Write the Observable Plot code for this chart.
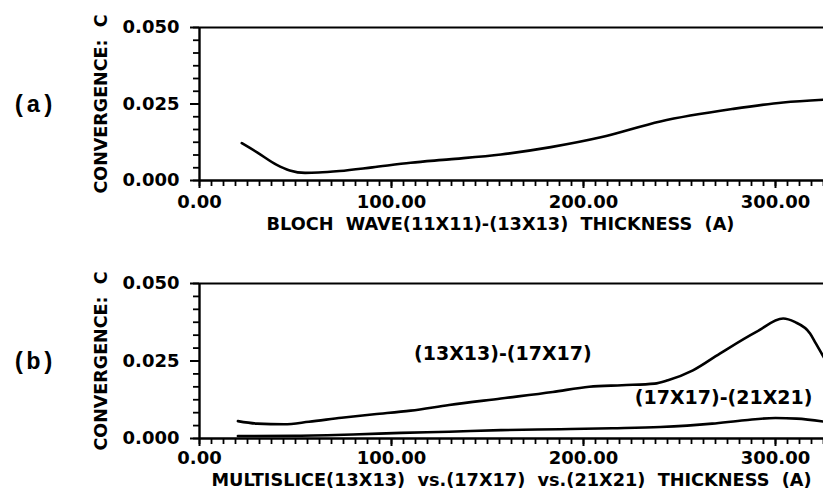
<!DOCTYPE html>
<html>
<head>
<meta charset="utf-8">
<script src="https://cdn.jsdelivr.net/npm/d3@7"></script>
<script src="https://cdn.jsdelivr.net/npm/@observablehq/plot@0.6"></script>
<style>
  html, body { margin: 0; padding: 0; background: #fff; }
  #chart { width: 823px; height: 499px; position: relative; overflow: hidden; }
  #chart svg { display: block; }
</style>
</head>
<body>
<div id="chart"></div>
<script>
// ---- data ----
// Panel (a): Bloch wave (11x11)-(13x13)
const thicknessA = [22, 30, 40, 47, 55, 62, 73, 90, 110, 130, 157, 183, 209, 240, 278, 304, 325];
const convA      = [0.0122, 0.0092, 0.0052, 0.0033, 0.0025, 0.0026, 0.0031, 0.0043, 0.0058, 0.0069, 0.0085, 0.0109, 0.0141, 0.0193, 0.0234, 0.0255, 0.0264];

// Panel (b): Multislice (13x13)-(17x17)
const thicknessB1 = [20, 30, 44, 57, 74, 91, 110, 130, 157, 184, 203, 220, 237, 244, 257, 271, 290, 304, 310, 318, 321, 326];
const convB1      = [0.0056, 0.0048, 0.0046, 0.0054, 0.0067, 0.0078, 0.0090, 0.0108, 0.0129, 0.0150, 0.0167, 0.0172, 0.0177, 0.0188, 0.0220, 0.0274, 0.0344, 0.0387, 0.0376, 0.0339, 0.0307, 0.0253];
// Panel (b): Multislice (17x17)-(21x21)
const thicknessB2 = [20, 50, 80, 105, 130, 157, 188, 215, 240, 267, 284, 300, 311, 326];
const convB2      = [0.0008, 0.0009, 0.0013, 0.0018, 0.0022, 0.0027, 0.0030, 0.0033, 0.0037, 0.0048, 0.0059, 0.0066, 0.0064, 0.0054];

const xMajorTicks = [0, 100, 200, 300];
const yMajorTicks = [0, 0.025, 0.05];
const yAxisLabel = "CONVERGENCE:\u00a0\u00a0C";
const xLabelA = "BLOCH\u00a0\u00a0WAVE(11X11)-(13X13)\u00a0\u00a0THICKNESS\u00a0\u00a0(A)";
const xLabelB = "MULTISLICE(13X13)\u00a0\u00a0vs.(17X17)\u00a0\u00a0vs.(21X21)\u00a0\u00a0THICKNESS\u00a0\u00a0(A)";
const panelLabels = ["(a)", "(b)"];
const seriesLabelsB = ["(13X13)-(17X17)", "(17X17)-(21X21)"];
const seriesLabelPosB = [{t: 158, c: 0.0274}, {t: 273, c: 0.0131}];

// ---- helpers ----
const xMinor = d3.range(0, 326, 6.25);
const yMinor = d3.range(0, 13).map(i => i * 0.05 / 12);
const font = "DejaVu Sans";

function panel({height, marginTop, marginBottom, series, xLabel, xLabelDy, xLabelDx, tickPad, panelLabel, annotations}) {
  const marks = [
    // frame lines
    Plot.ruleY([0.05], {strokeWidth: 2.2}),
    Plot.ruleX([0], {strokeWidth: 2.4}),
    Plot.ruleY([0], {strokeWidth: 2.6}),
    // minor ticks
    Plot.axisX({ticks: xMinor, tickSize: 6, tickFormat: () => "", strokeWidth: 1.8, label: null}),
    Plot.axisY({ticks: yMinor, tickSize: 6, tickFormat: () => "", strokeWidth: 1.8, label: null}),
    // major ticks with labels
    Plot.axisX({ticks: xMajorTicks, tickSize: 8, tickPadding: tickPad, strokeWidth: 2,
      tickFormat: d => d.toFixed(2), fontSize: 18, fontWeight: "bold", label: null}),
    Plot.axisY({ticks: yMajorTicks, tickSize: 9, tickPadding: 11, strokeWidth: 2,
      tickFormat: d => d.toFixed(3), fontSize: 18, fontWeight: "bold", label: null}),
    // y label
    Plot.text([yAxisLabel], {frameAnchor: "left", textAnchor: "middle", rotate: -90, dx: -98,
      fontSize: 17.5, fontWeight: "bold", text: d => d}),
    // x label
    Plot.text([xLabel], {frameAnchor: "bottom", dy: xLabelDy, dx: xLabelDx, fontSize: 17.7, fontWeight: "bold", text: d => d}),
    // panel label
    Plot.text([panelLabel], {frameAnchor: "left", textAnchor: "middle", dx: -166, fontSize: 24, fontWeight: "bold",
      fontFamily: "Liberation Mono", text: d => d}),
  ];
  for (const s of series) {
    marks.push(Plot.line(s.t.map((t, i) => ({t, c: s.c[i]})), {x: "t", y: "c", curve: "monotone-x", strokeWidth: 2.6}));
  }
  if (annotations) {
    marks.push(Plot.text(annotations, {x: "t", y: "c", text: "label", fontSize: 19, fontWeight: "bold"}));
  }
  return Plot.plot({
    width: 823, height,
    marginLeft: 199, marginRight: 0, marginTop, marginBottom,
    x: {domain: [0, 325]},
    y: {domain: [0, 0.05]},
    style: {fontFamily: font, color: "black", background: "white", overflow: "visible"},
    marks
  });
}

const chart = document.getElementById("chart");
chart.append(panel({
  height: 250, marginTop: 27, marginBottom: 70,
  series: [{t: thicknessA, c: convA}],
  xLabel: xLabelA, xLabelDy: 49, xLabelDx: -11, tickPad: 7,
  panelLabel: panelLabels[0]
}));
chart.append(panel({
  height: 249, marginTop: 33, marginBottom: 61,
  series: [{t: thicknessB1, c: convB1}, {t: thicknessB2, c: convB2}],
  xLabel: xLabelB, xLabelDy: 47.5, xLabelDx: 0, tickPad: 5,
  panelLabel: panelLabels[1],
  annotations: seriesLabelsB.map((label, i) => ({label, t: seriesLabelPosB[i].t, c: seriesLabelPosB[i].c}))
}));
</script>
</body>
</html>
